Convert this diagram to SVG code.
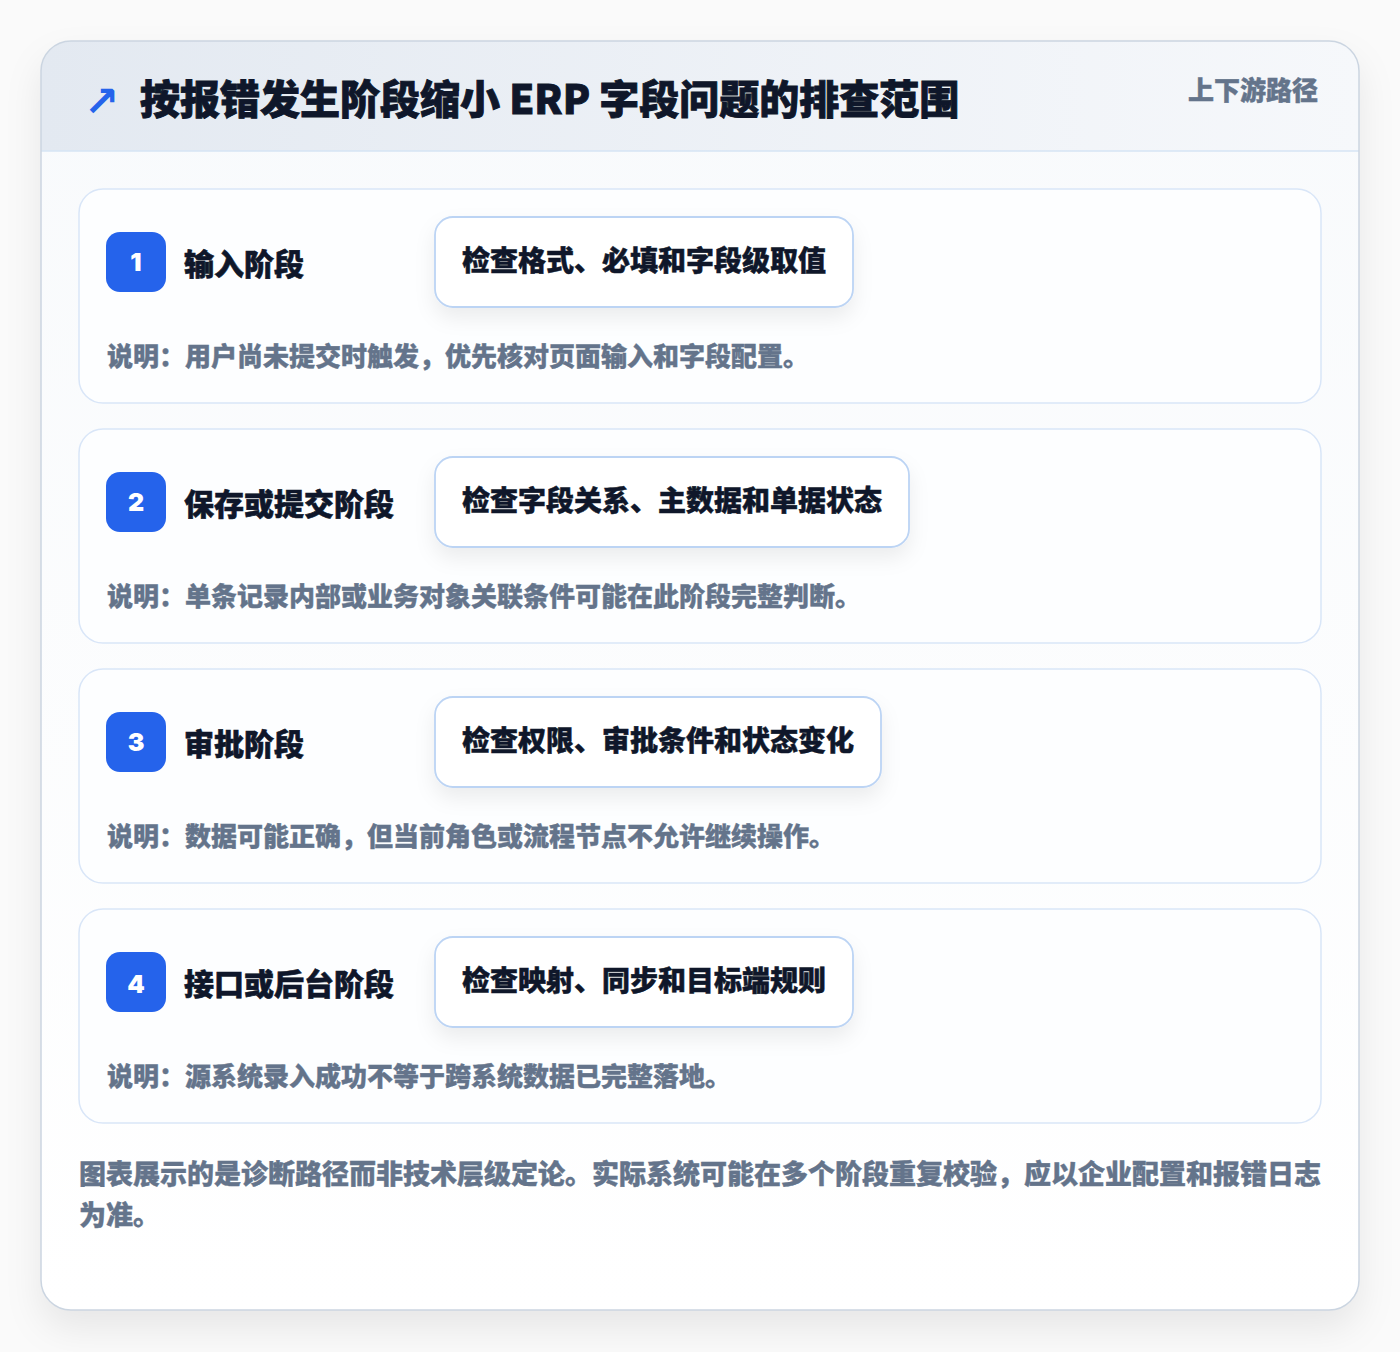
<svg xmlns="http://www.w3.org/2000/svg" width="1400" height="1352" viewBox="0 0 1400 1352">
<defs>
  <linearGradient id="hdr" x1="0" y1="0" x2="1" y2="0">
    <stop offset="0" stop-color="#e3e9f1"/>
    <stop offset="1" stop-color="#f6f8fb"/>
  </linearGradient>
  <linearGradient id="body" x1="0" y1="0" x2="0" y2="1">
    <stop offset="0" stop-color="#f8fafc"/>
    <stop offset="1" stop-color="#ffffff"/>
  </linearGradient>
  <filter id="mainShadow" x="-10%" y="-10%" width="120%" height="120%">
    <feDropShadow dx="0" dy="18" stdDeviation="18" flood-color="#0f172a" flood-opacity="0.08"/>
  </filter>
  <filter id="boxShadow" x="-20%" y="-40%" width="140%" height="200%">
    <feDropShadow dx="0" dy="10" stdDeviation="10" flood-color="#0f172a" flood-opacity="0.07"/>
  </filter>
  <clipPath id="mainClip"><rect x="41" y="41" width="1318" height="1269" rx="30"/></clipPath>
</defs>
<style>
  text { font-family: "Noto Sans CJK SC", "Noto Sans", sans-serif; font-weight: 900; }
  .title { font-size: 40px; fill: #0f172a; stroke: #0f172a; stroke-width: 0.9; }
  .tag { font-size: 26px; fill: #64748b; stroke: #64748b; stroke-width: 0.4; }
  .card { fill: #fdfeff; stroke: #d9e6f8; stroke-width: 1.5; }
  .badge { fill: #2563eb; }
  .num { font-family: "Inter", "Noto Sans", sans-serif; font-size: 25px; fill: #ffffff; text-anchor: middle; font-weight: 900; }
  .stage { font-size: 30px; fill: #0f172a; stroke: #0f172a; stroke-width: 0.6; }
  .box { fill: #ffffff; stroke: #bcd4f4; stroke-width: 1.8; }
  .check { font-size: 28px; fill: #0f172a; stroke: #0f172a; stroke-width: 0.5; }
  .desc { font-size: 26px; fill: #64748b; stroke: #64748b; stroke-width: 0.4; }
  .foot { font-size: 27px; fill: #64748b; stroke: #64748b; stroke-width: 0.4; }
  .icon { font-family: "DejaVu Sans", sans-serif; font-weight: 700; font-size: 42px; fill: #2563eb; }
</style>
<rect x="0" y="0" width="1400" height="1352" fill="#fafafa"/>
<g id="frame">
  <rect x="41" y="41" width="1318" height="1269" rx="30" fill="url(#body)" filter="url(#mainShadow)"/>
  <g clip-path="url(#mainClip)">
    <rect x="41" y="41" width="1318" height="110" fill="url(#hdr)"/>
    <line x1="41" y1="151" x2="1359" y2="151" stroke="#d6e4f5" stroke-width="1.5"/>
  </g>
  <rect x="41" y="41" width="1318" height="1269" rx="30" fill="none" stroke="#cbd5e1" stroke-width="1.5"/>
</g>
<g id="header">
  <text class="icon" x="84" y="116">↗</text>
  <text class="title" x="140" y="114">按报错发生阶段缩小 ERP 字段问题的排查范围</text>
  <text class="tag" x="1318" y="100" text-anchor="end">上下游路径</text>
</g>
<g id="stage1">
  <rect class="card" x="79" y="189" width="1242" height="214" rx="24"/>
  <rect class="badge" x="106" y="232" width="60" height="60" rx="14"/>
  <text class="num" x="136" y="271">1</text>
  <text class="stage" x="184" y="275">输入阶段</text>
  <rect class="box" x="435" y="217" width="418" height="90" rx="18" filter="url(#boxShadow)"/>
  <text class="check" x="462" y="271">检查格式、必填和字段级取值</text>
  <text class="desc" x="107" y="366">说明：用户尚未提交时触发，优先核对页面输入和字段配置。</text>
</g>
<g id="stage2">
  <rect class="card" x="79" y="429" width="1242" height="214" rx="24"/>
  <rect class="badge" x="106" y="472" width="60" height="60" rx="14"/>
  <text class="num" x="136" y="511">2</text>
  <text class="stage" x="184" y="515">保存或提交阶段</text>
  <rect class="box" x="435" y="457" width="474" height="90" rx="18" filter="url(#boxShadow)"/>
  <text class="check" x="462" y="511">检查字段关系、主数据和单据状态</text>
  <text class="desc" x="107" y="606">说明：单条记录内部或业务对象关联条件可能在此阶段完整判断。</text>
</g>
<g id="stage3">
  <rect class="card" x="79" y="669" width="1242" height="214" rx="24"/>
  <rect class="badge" x="106" y="712" width="60" height="60" rx="14"/>
  <text class="num" x="136" y="751">3</text>
  <text class="stage" x="184" y="755">审批阶段</text>
  <rect class="box" x="435" y="697" width="446" height="90" rx="18" filter="url(#boxShadow)"/>
  <text class="check" x="462" y="751">检查权限、审批条件和状态变化</text>
  <text class="desc" x="107" y="846">说明：数据可能正确，但当前角色或流程节点不允许继续操作。</text>
</g>
<g id="stage4">
  <rect class="card" x="79" y="909" width="1242" height="214" rx="24"/>
  <rect class="badge" x="106" y="952" width="60" height="60" rx="14"/>
  <text class="num" x="136" y="993">4</text>
  <text class="stage" x="184" y="995">接口或后台阶段</text>
  <rect class="box" x="435" y="937" width="418" height="90" rx="18" filter="url(#boxShadow)"/>
  <text class="check" x="462" y="991">检查映射、同步和目标端规则</text>
  <text class="desc" x="107" y="1086">说明：源系统录入成功不等于跨系统数据已完整落地。</text>
</g>
<g id="connectors"></g>
<g id="footer">
  <text class="foot" x="79" y="1184">图表展示的是诊断路径而非技术层级定论。实际系统可能在多个阶段重复校验，应以企业配置和报错日志</text>
  <text class="foot" x="79" y="1225">为准。</text>
</g>
</svg>
